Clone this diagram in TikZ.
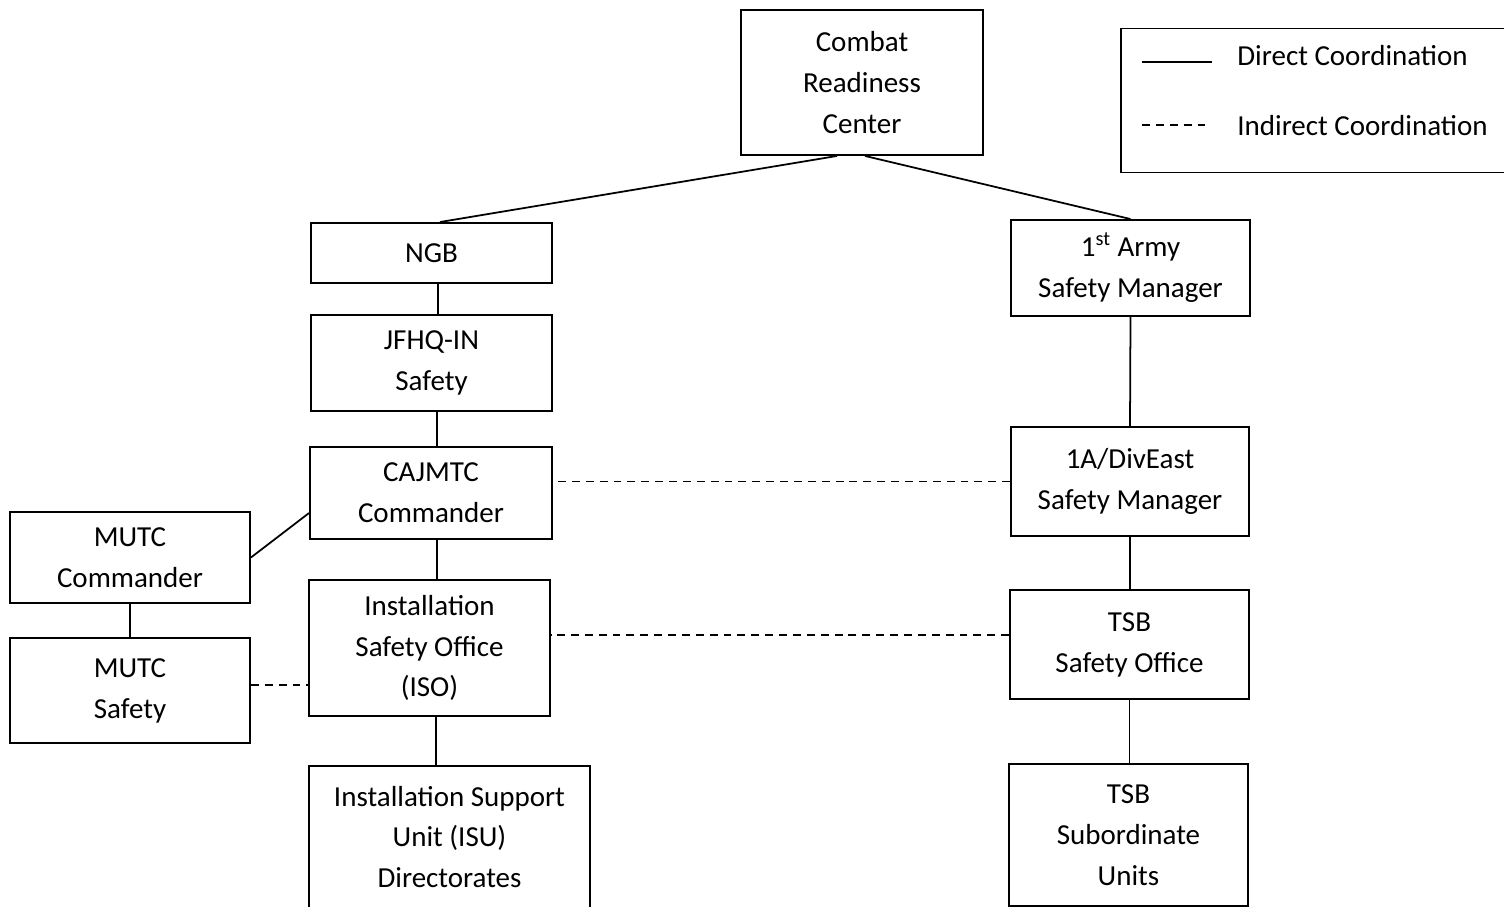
\documentclass[tikz,border=0pt]{standalone}
\usepackage{fontspec}
\setmainfont{Carlito}
\usepackage{tikz}
\usepackage{xcolor}

\begin{document}
\begin{tikzpicture}[x=0.02cm, y=-0.02cm, font=\fontsize{16.5}{23.3}\selectfont,
    box/.style={draw, line width=1.1pt, inner sep=0pt, align=center},
    direct/.style={line width=1pt},
    indirect/.style={line width=1pt, dash pattern=on 4.5pt off 3.4pt}]
            \useasboundingbox (0, 0) rectangle (1504, 909);
            \clip (0, 0) rectangle (1504, 906.5);

            \node[box, minimum width=4.84cm, minimum height=2.9cm] (crc) at (862, 82.5) {Combat\\Readiness\\Center};

            \node[box, minimum width=8cm, minimum height=2.88cm] (legend) at (1321, 100.5) {};
            \coordinate (solidA) at (1142, 62);
            \coordinate (solidB) at (1212, 62);
            \coordinate (dashA) at (1142, 125);
            \coordinate (dashB) at (1210, 125);
            \draw[direct] (solidA) -- (solidB);
            \draw[indirect] (dashA) -- (dashB);
            \node[anchor=base west, inner sep=0pt] (directTxt) at (1237, 66) {Direct Coordination};
            \node[anchor=base west, inner sep=0pt] (indirectTxt) at (1237, 135) {Indirect Coordination};

            % left column
            \node[box, minimum width=4.82cm, minimum height=1.2cm] (ngb) at (431.5, 253) {NGB};
            \node[box, minimum width=4.82cm, minimum height=1.92cm] (jfhq) at (431.5, 363) {JFHQ-IN\\Safety};
            \node[box, minimum width=4.84cm, minimum height=1.84cm] (cajmtc) at (431, 493) {CAJMTC\\Commander};
            \node[box, minimum width=4.82cm, minimum height=2.72cm] (iso) at (429.5, 648) {Installation\\Safety Office\\(ISO)};
            \node[box, minimum width=5.62cm, minimum height=2.84cm] (isu) at (449.5, 837) {Installation Support\\Unit (ISU)\\Directorates};

            \node[box, minimum width=4.8cm, minimum height=1.82cm] (mutcCmd) at (130, 557.5) {MUTC\\Commander};
            \node[box, minimum width=4.8cm, minimum height=2.1cm] (mutcSafety) at (130, 690.5) {MUTC\\Safety};

            % right column
            \node[box, minimum width=4.78cm, minimum height=1.92cm] (army) at (1130.5, 268) {1\textsuperscript{st} Army\\Safety Manager};
            \node[box, minimum width=4.76cm, minimum height=2.18cm] (divEast) at (1130, 481.5) {1A/DivEast\\Safety Manager};
            \node[box, minimum width=4.78cm, minimum height=2.18cm] (tsbOffice) at (1129.5, 644.5) {TSB\\Safety Office};
            \node[box, minimum width=4.78cm, minimum height=2.84cm] (tsbUnits) at (1128.5, 835) {TSB\\Subordinate\\Units};

            \draw[direct] ([xshift=-5mm]crc.south) -- ([xshift=1.7mm]ngb.north);
            \draw[direct] ([xshift=0.6mm]crc.south) -- (army.north);

            \draw[direct] ([xshift=1.3mm]ngb.south) -- ([xshift=1.3mm]ngb.south |- jfhq.north);
            \draw[direct] ([xshift=1.1mm]jfhq.south) -- ([xshift=1.1mm]jfhq.south |- cajmtc.north);
            \draw[direct] ([xshift=1.2mm]cajmtc.south) -- ([xshift=1.2mm]cajmtc.south |- iso.north);
            \draw[direct] ([xshift=1.3mm]iso.south) -- ([xshift=1.3mm]iso.south |- isu.north);

            \draw[direct] (mutcCmd.east) -- ([yshift=-4mm]cajmtc.west);
            \draw[direct] (mutcCmd.south) -- (mutcSafety.north);
            \draw[indirect] ([yshift=1.1mm]mutcSafety.east) -- ([yshift=1.1mm]mutcSafety.east -| iso.west);

            \draw[direct] (army.south) -- (divEast.north);
            \draw[direct] (divEast.south) -- (divEast.south |- tsbOffice.north);
            \draw[direct] (tsbOffice.south) -- (tsbOffice.south |- tsbUnits.north);

            \draw[indirect] (divEast.west) -- (divEast.west -| cajmtc.east);
            \draw[indirect] ([yshift=1.9mm]tsbOffice.west) -- ([yshift=1.9mm]tsbOffice.west -| iso.east);
        \end{tikzpicture}
\end{document}
